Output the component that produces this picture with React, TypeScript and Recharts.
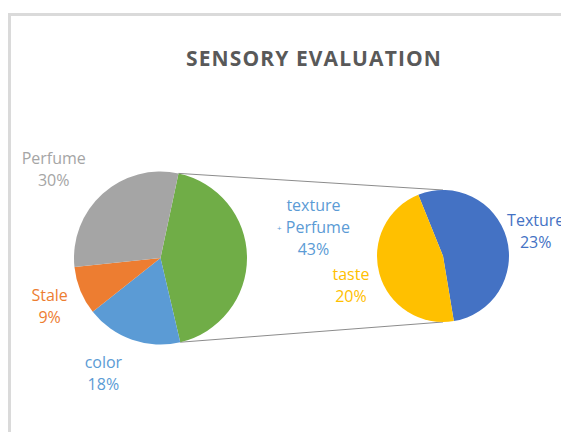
import { PieChart, Pie, Cell, Customized } from "recharts";

// main pie, clockwise from the top-right edge of the green slice
const mainNames = ["texture + Perfume", "color", "Stale", "Perfume"];
const mainValues = [43, 18, 9, 30];
// secondary pie splits the 43% slice
const subNames = ["Texture", "taste"];
const subValues = [23, 20];

const MAIN_COLORS = ["#70ad47", "#5b9bd5", "#ed7d31", "#a5a5a5"];
const MAIN_LABEL_COLORS = ["#5b9bd5", "#5b9bd5", "#ed7d31", "#a5a5a5"];
const SUB_COLORS = ["#4472c4", "#ffc000"];

const W = 561;
const H = 424;
const MAIN = { cx: 152.5, cy: 250, r: 86.5, start: 78 };
const SUB = { cx: 435, cy: 248, r: 66, start: -248 };
const FONT = "'Open Sans', sans-serif";

// label placement: distance from centre and angle tweak (deg, clockwise)
const MAIN_LABEL_POS = [
  { dist: 156, dTheta: -10.7 },
  { dist: 128, dTheta: 7.3 },
  { dist: 121, dTheta: -1.4 },
  { dist: 139, dTheta: -8.2 },
];
const SUB_LABEL_POS = [
  { dist: 96, dTheta: 0.7 },
  { dist: 96.5, dTheta: -1.8 },
];

const mainData = mainNames.map((name, i) => ({ name, value: mainValues[i] }));
const subData = subNames.map((name, i) => ({ name, value: subValues[i] }));

const RAD = Math.PI / 180;

function makeLabel(names: string[], values: number[], colors: string[], pos: { dist: number; dTheta: number }[]) {
  return (props: any) => {
    const { cx, cy, midAngle, index } = props;
    const p = pos[index];
    const a = (midAngle - p.dTheta) * RAD;
    const x = cx + p.dist * Math.cos(a);
    const y = cy - p.dist * Math.sin(a);
    const name = names[index];
    let lines: string[];
    if (name.includes(" + ")) {
      const [a1, b1] = name.split(" + ");
      lines = [a1, "+ " + b1, values[index] + "%"];
    } else {
      lines = [name, values[index] + "%"];
    }
    const step = 22;
    const top = y - ((lines.length - 1) * step) / 2;
    return (
      <text
        x={x}
        y={top}
        fill={colors[index]}
        fontSize={16}
        fontFamily={FONT}
        textAnchor="middle"
        dominantBaseline="central"
      >
        {lines.map((l, i) => (
          <tspan key={i} x={x} y={top + i * step}>
            {l.startsWith("+ ") ? (
              <>
                <tspan fontSize={8}>+</tspan>
                {l.slice(1)}
              </>
            ) : (
              l
            )}
          </tspan>
        ))}
      </text>
    );
  };
}

function Overlay() {
  // connectors from the green slice edges to top/bottom of the second pie
  const total = mainValues.reduce((s, v) => s + v, 0);
  const a0 = MAIN.start * RAD;
  const a1 = (MAIN.start - (mainValues[0] / total) * 360) * RAD;
  const p0 = { x: MAIN.cx + MAIN.r * Math.cos(a0), y: MAIN.cy - MAIN.r * Math.sin(a0) };
  const p1 = { x: MAIN.cx + MAIN.r * Math.cos(a1), y: MAIN.cy - MAIN.r * Math.sin(a1) };
  return (
    <g>
      <text
        x={306}
        y={58}
        textAnchor="middle"
        fontFamily={FONT}
        fontWeight={700}
        fontSize={21}
        letterSpacing={1.1}
        fill="#595959"
      >
        SENSORY EVALUATION
      </text>
      <line x1={p0.x} y1={p0.y} x2={SUB.cx} y2={SUB.cy - SUB.r} stroke="#8c8c8c" strokeWidth={1} />
      <line x1={p1.x} y1={p1.y} x2={SUB.cx} y2={SUB.cy + SUB.r} stroke="#8c8c8c" strokeWidth={1} />
    </g>
  );
}

export default function App() {
  return (
    <div style={{ position: "relative", width: W, height: H, background: "#fff", overflow: "hidden" }}>
      <div
        style={{
          position: "absolute",
          left: 0,
          top: 5,
          width: W + 8,
          height: H + 3,
          borderLeft: "3px solid #dadada",
          borderTop: "3px solid #dadada",
          boxSizing: "border-box",
        }}
      />
      <div style={{ position: "absolute", left: 0, top: 0 }}>
        <PieChart width={W} height={H} margin={{ top: 0, right: 0, bottom: 0, left: 0 }}>
          <Customized component={Overlay} />
          <Pie
            data={mainData}
            dataKey="value"
            cx={MAIN.cx}
            cy={MAIN.cy}
            outerRadius={MAIN.r}
            startAngle={MAIN.start}
            endAngle={MAIN.start - 360}
            stroke="none"
            isAnimationActive={false}
            labelLine={false}
            label={makeLabel(mainNames, mainValues, MAIN_LABEL_COLORS, MAIN_LABEL_POS)}
          >
            {mainData.map((_, i) => (
              <Cell key={i} fill={MAIN_COLORS[i]} />
            ))}
          </Pie>
          <Pie
            data={subData}
            dataKey="value"
            cx={SUB.cx}
            cy={SUB.cy}
            outerRadius={SUB.r}
            startAngle={SUB.start}
            endAngle={SUB.start - 360}
            stroke="none"
            isAnimationActive={false}
            labelLine={false}
            label={makeLabel(subNames, subValues, SUB_COLORS, SUB_LABEL_POS)}
          >
            {subData.map((_, i) => (
              <Cell key={i} fill={SUB_COLORS[i]} />
            ))}
          </Pie>
        </PieChart>
      </div>
    </div>
  );
}
